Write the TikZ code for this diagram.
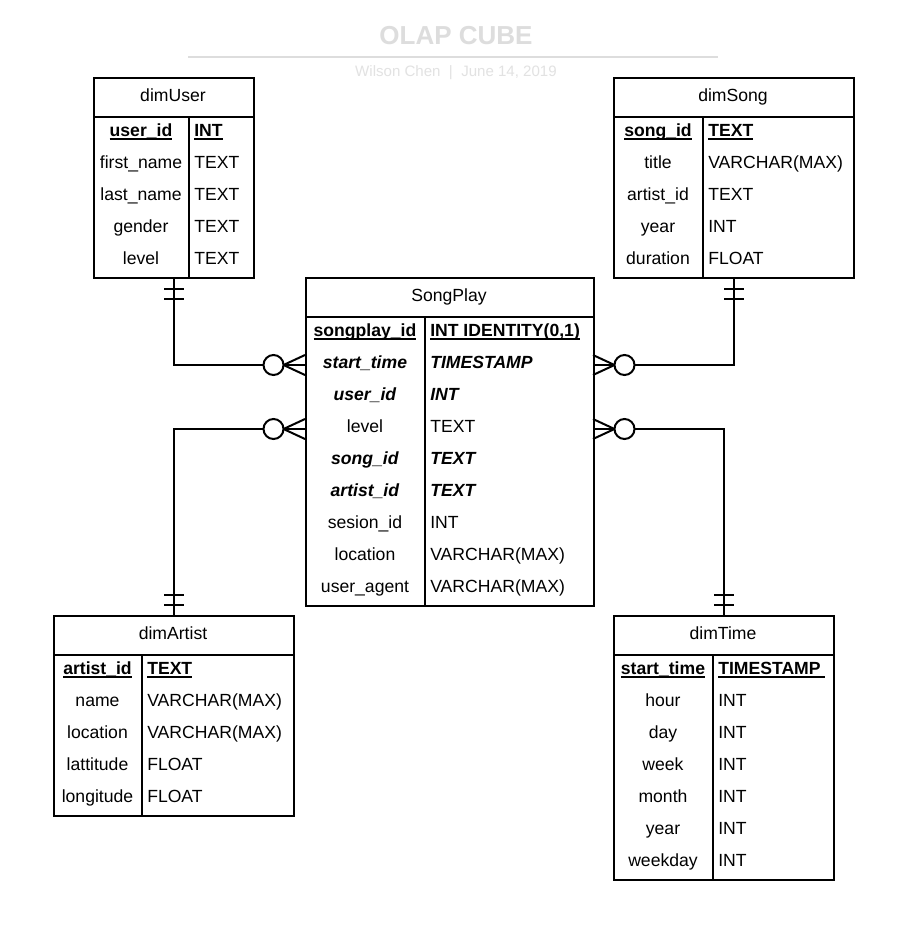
\documentclass[tikz,border=0pt]{standalone}
\usepackage{fontspec}
\setmainfont{Liberation Sans}
\usetikzlibrary{calc}
\definecolor{ttl}{HTML}{DDDDDD}
\definecolor{sub}{HTML}{E2E2E2}
\newcommand\fs{\fontsize{13.2pt}{16pt}\selectfont}
\newcommand\ulx[1]{\setbox0\hbox{#1}\rlap{\rule[-2.5pt]{\wd0}{1.1pt}}\box0}
\newcommand\kf[1]{\ulx{\bfseries #1}}
\newcommand\fk[1]{\textbf{\textit{#1}}}
\tikzset{
  tbl/.style={draw, line width=1.5pt, inner sep=0pt},
  cell/.style={font=\fs, inner sep=0pt},
  rel/.style={line width=1.5pt},
}
% #1 name, #2 x1, #3 x2, #4 xdiv, #5 ytop, #6 nrows, #7 title
\newcommand\ertable[7]{%
  \pgfmathsetmacro\tw{(#3-#2)*0.75}%
  \pgfmathsetmacro\th{(40+32*#6)*0.75}%
  \node[tbl, minimum width=\tw pt, minimum height=\th pt, anchor=north west] (#1) at (#2,#5) {};
  \node[cell, anchor=base] (#1-title) at ({(#2+#3)/2},{#5+24.5}) {#7};
  \draw[line width=1.5pt] (#2,{#5+40}) -- (#3,{#5+40});
  \draw[line width=1.5pt] (#4,{#5+40}) -- (#4,{#5+40+32*#6});
}
% #1 name, #2 x1, #3 xdiv, #4 ytop, #5 rows
\newcommand\ertrows[5]{%
  \foreach \i/\ca/\cb in {#5}{%
    \node[cell, anchor=base] (#1-n\i) at ({(#2+#3)/2},{#4+56+32*\i+3.5}) {\ca};
    \node[cell, anchor=base west] (#1-t\i) at ({#3+5},{#4+56+32*\i+3.5}) {\cb};
  }%
}
\newcommand\crowL[1]{%
  \draw[rel] ($(#1)+(-21.5,0)$) -- ($(#1)+(0,-10)$) ($(#1)+(-21.5,0)$) -- ($(#1)+(0,10)$);
  \draw[rel, fill=white] ($(#1)+(-31.5,0)$) circle[radius=7.5pt];
}
\newcommand\crowR[1]{%
  \draw[rel] ($(#1)+(21.5,0)$) -- ($(#1)+(0,-10)$) ($(#1)+(21.5,0)$) -- ($(#1)+(0,10)$);
  \draw[rel, fill=white] ($(#1)+(31.5,0)$) circle[radius=7.5pt];
}
\begin{document}
\begin{tikzpicture}[x=0.75pt, y=-0.75pt]
\useasboundingbox[fill=white] (0,0) rectangle (922,933);

% title
\node[font=\fontsize{19.5pt}{22pt}\selectfont\bfseries, text=ttl, anchor=base, inner sep=0pt] (title) at (456,44) {OLAP CUBE};
\draw[ttl, line width=1.5pt] (188,56.5) -- (718,56.5);
\node[font=\fontsize{11.3pt}{13pt}\selectfont, text=sub, anchor=base, inner sep=0pt] (subtitle) at (456,76) {Wilson Chen~~|~~June 14, 2019};

% tables
\ertable{dimUser}{93}{253}{189}{77}{5}{dimUser}
\ertrows{dimUser}{93}{189}{77}{0/{\kf{user\_id}}/{\kf{INT}}, 1/first\_name/TEXT, 2/last\_name/TEXT, 3/gender/TEXT, 4/level/TEXT}

\ertable{dimSong}{613}{853}{703}{77}{5}{dimSong}
\ertrows{dimSong}{613}{703}{77}{0/{\kf{song\_id}}/{\kf{TEXT}}, 1/title/{VARCHAR(MAX)}, 2/artist\_id/TEXT, 3/year/INT, 4/duration/FLOAT}

\ertable{SongPlay}{305}{593}{425}{277}{9}{SongPlay}
\ertrows{SongPlay}{305}{425}{277}{0/{\kf{songplay\_id}}/{\kf{INT IDENTITY(0,1)}}, 1/{\fk{start\_time}}/{\fk{TIMESTAMP}}, 2/{\fk{user\_id}}/{\fk{INT}}, 3/level/TEXT, 4/{\fk{song\_id}}/{\fk{TEXT}}, 5/{\fk{artist\_id}}/{\fk{TEXT}}, 6/sesion\_id/INT, 7/location/{VARCHAR(MAX)}, 8/user\_agent/{VARCHAR(MAX)}}

\ertable{dimArtist}{53}{293}{142}{615}{5}{dimArtist}
\ertrows{dimArtist}{53}{142}{615}{0/{\kf{artist\_id}}/{\kf{TEXT}}, 1/name/{VARCHAR(MAX)}, 2/location/{VARCHAR(MAX)}, 3/lattitude/FLOAT, 4/longitude/FLOAT}

\ertable{dimTime}{613}{833}{713}{615}{7}{dimTime}
\ertrows{dimTime}{613}{713}{615}{0/{\kf{start\_time}}/{\kf{TIMESTAMP\kern3pt}}, 1/hour/INT, 2/day/INT, 3/week/INT, 4/month/INT, 5/year/INT, 6/weekday/INT}

% connection points on SongPlay
\coordinate (spL1) at (305,365);
\coordinate (spL3) at (305,429);
\coordinate (spR1) at (593,365);
\coordinate (spR3) at (593,429);

% connectors
\draw[rel] (dimUser.south) |- (spL1);
\draw[rel] (dimArtist.north) |- (spL3);
\draw[rel] (dimSong.south) |- (spR1);
\draw[rel] (dimTime.north) |- (spR3);

% mandatory-one bars
\foreach \d in {10,20}{
  \draw[rel] ($(dimUser.south)+(-10,\d)$) -- ++(20,0);
  \draw[rel] ($(dimSong.south)+(-10,\d)$) -- ++(20,0);
  \draw[rel] ($(dimArtist.north)+(-10,-\d)$) -- ++(20,0);
  \draw[rel] ($(dimTime.north)+(-10,-\d)$) -- ++(20,0);
}

% zero-or-many ends
\crowL{spL1}
\crowL{spL3}
\crowR{spR1}
\crowR{spR3}
\end{tikzpicture}
\end{document}
